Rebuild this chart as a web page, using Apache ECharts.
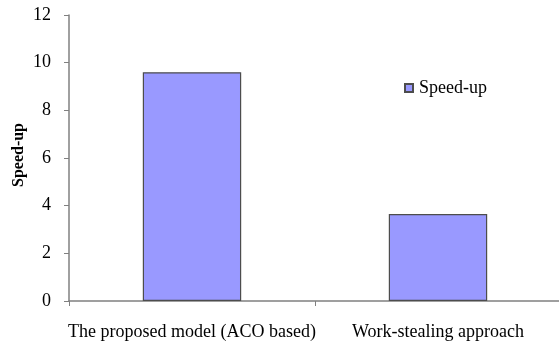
<!DOCTYPE html>
<html>
<head>
<meta charset="utf-8">
<script src="https://cdn.jsdelivr.net/npm/echarts@6/dist/echarts.min.js"></script>
<style>
html,body{margin:0;padding:0;background:#fff;}
#chart{width:559px;height:343px;}
</style>
</head>
<body>
<div id="chart"></div>
<script>
// Speed-up of each scheduling approach
const categories = ['The proposed model (ACO based)', 'Work-stealing approach'];
const speedUp = [9.6, 3.65];
const seriesName = 'Speed-up';

const serif = '"Liberation Serif", "DejaVu Serif", serif';
const chart = echarts.init(document.getElementById('chart'));
chart.setOption({
  animation: false,
  textStyle: { fontFamily: serif },
  grid: { left: 69, top: 15, width: 492, height: 286, containLabel: false, outerBoundsMode: 'none' },
  legend: {
    data: [seriesName],
    left: 399, top: 74,
    itemWidth: 8, itemHeight: 8,
    itemGap: 4,
    icon: 'rect',
    textStyle: { fontFamily: serif, fontSize: 18, color: '#000', padding: [0, 0, 0, 1] }
  },
  xAxis: {
    type: 'category',
    data: categories,
    boundaryGap: true,
    axisLine: { lineStyle: { color: '#808080', width: 1.5 } },
    axisTick: { show: true, length: 5, lineStyle: { color: '#808080' } },
    axisLabel: { color: '#000', fontFamily: serif, fontSize: 18, margin: 22, interval: 0 }
  },
  yAxis: {
    type: 'value',
    min: 0, max: 12, interval: 2,
    name: 'Speed-up',
    nameLocation: 'middle',
    nameGap: 42,
    nameMoveOverlap: false,
    nameTextStyle: { fontFamily: serif, fontSize: 16, fontWeight: 'bold', color: '#000', padding: [0, 0, 0, 6] },
    axisLine: { show: true, lineStyle: { color: '#808080', width: 1.5 } },
    axisTick: { show: true, inside: false, length: 5, lineStyle: { color: '#808080' } },
    axisLabel: { color: '#000', fontFamily: serif, fontSize: 18, margin: 18 },
    splitLine: { show: false }
  },
  series: [{
    name: seriesName,
    type: 'bar',
    data: speedUp,
    barWidth: '40%',
    itemStyle: { color: '#9999FF', borderColor: '#4d4d4d', borderWidth: 1.2 }
  }]
});
</script>
</body>
</html>
